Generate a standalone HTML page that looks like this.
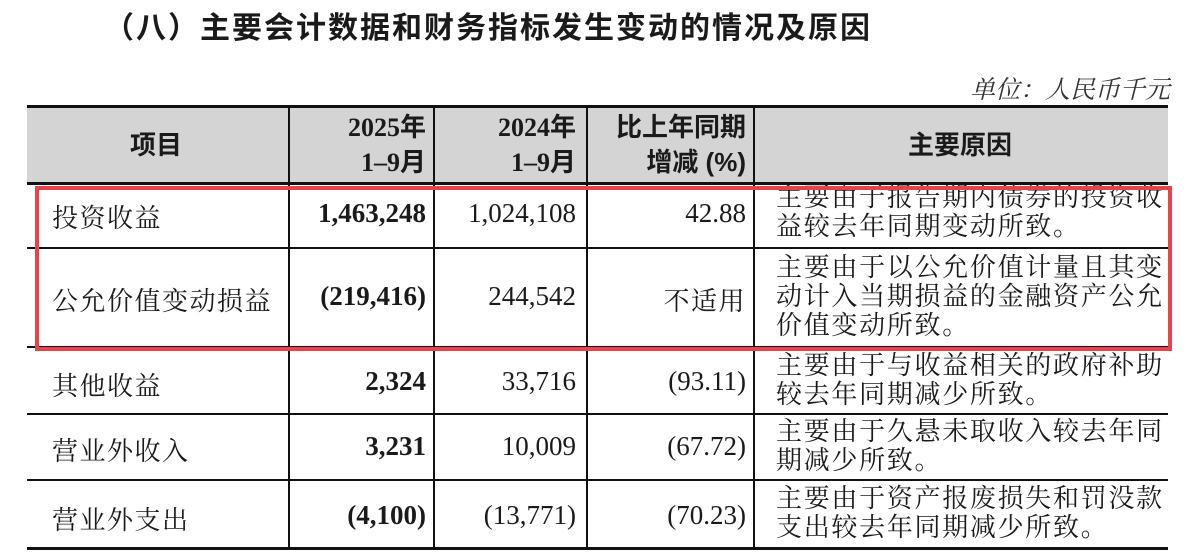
<!DOCTYPE html>
<html><head><meta charset="utf-8"><style>
body{margin:0;width:1202px;height:556px;background:#fff;position:relative;overflow:hidden;font-family:"Liberation Serif","Noto Serif CJK SC",serif;color:#1a1a1a}
.a{position:absolute;white-space:nowrap}
.h{position:absolute;background:#111}
.t{font-family:"Liberation Sans","Noto Sans CJK SC",sans-serif;font-weight:bold;font-size:30px;letter-spacing:2px;left:104px;top:3px}
.u{font-style:italic;font-size:25px;right:32px;top:70px;color:#333}
.c{font-size:27px}
.z{font-size:26px;letter-spacing:1.5px}
.r{text-align:right}
.b{font-weight:bold}
.hd{font-family:"Liberation Serif","Noto Sans CJK SC",serif;font-weight:bold;font-size:26px;line-height:35px}
.rs{font-size:26px;letter-spacing:1.7px;line-height:29px;left:776px}
</style></head><body>
<div class="a t">（八）主要会计数据和财务指标发生变动的情况及原因</div>
<div class="a u">单位：人民币千元</div>
<div style="position:absolute;left:27px;top:107px;width:1141px;height:76px;background:#d4d4d4"></div>
<div class="h" style="left:27px;top:105px;width:1141px;height:3px"></div>
<div class="h" style="left:27px;top:182px;width:1141px;height:3px"></div>
<div class="h" style="left:27px;top:247px;width:1141px;height:2px"></div>
<div class="h" style="left:27px;top:346px;width:1141px;height:2px"></div>
<div class="h" style="left:27px;top:413px;width:1141px;height:2px"></div>
<div class="h" style="left:27px;top:479px;width:1141px;height:2px"></div>
<div class="h" style="left:27px;top:547px;width:1141px;height:3px"></div>
<div class="h" style="left:288px;top:105px;width:2px;height:444px"></div>
<div class="h" style="left:433px;top:105px;width:2px;height:444px"></div>
<div class="h" style="left:586px;top:105px;width:2px;height:444px"></div>
<div class="h" style="left:753px;top:105px;width:2px;height:444px"></div>
<div class="a hd" style="left:130px;top:128px;font-family:'Liberation Sans','Noto Sans CJK SC',sans-serif">项目</div>
<div class="a hd r" style="right:776px;top:110px">2025年<br>1–9月</div>
<div class="a hd r" style="right:626px;top:110px">2024年<br>1–9月</div>
<div class="a hd r" style="right:456px;top:110px;font-family:'Liberation Sans','Noto Sans CJK SC',sans-serif">比上年同期<br>增减 (%)</div>
<div class="a hd" style="left:908px;top:128px;font-family:'Liberation Sans','Noto Sans CJK SC',sans-serif">主要原因</div>

<div class="a z" style="left:52px;top:198px">投资收益</div>
<div class="a c b r" style="right:776px;top:198px">1,463,248</div>
<div class="a c r" style="right:626px;top:198px">1,024,108</div>
<div class="a c r" style="right:456px;top:198px">42.88</div>
<div class="a rs" style="top:183px">主要由于报告期内债券的投资收<br>益较去年同期变动所致。</div>

<div class="a z" style="left:52px;top:281px">公允价值变动损益</div>
<div class="a c b r" style="right:776px;top:281px">(219,416)</div>
<div class="a c r" style="right:626px;top:281px">244,542</div>
<div class="a z r" style="right:456px;top:281px">不适用</div>
<div class="a rs" style="top:253px">主要由于以公允价值计量且其变<br>动计入当期损益的金融资产公允<br>价值变动所致。</div>

<div class="a z" style="left:52px;top:366px">其他收益</div>
<div class="a c b r" style="right:776px;top:366px">2,324</div>
<div class="a c r" style="right:626px;top:366px">33,716</div>
<div class="a c r" style="right:456px;top:366px">(93.11)</div>
<div class="a rs" style="top:351px">主要由于与收益相关的政府补助<br>较去年同期减少所致。</div>

<div class="a z" style="left:52px;top:431px">营业外收入</div>
<div class="a c b r" style="right:776px;top:431px">3,231</div>
<div class="a c r" style="right:626px;top:431px">10,009</div>
<div class="a c r" style="right:456px;top:431px">(67.72)</div>
<div class="a rs" style="top:417px">主要由于久悬未取收入较去年同<br>期减少所致。</div>

<div class="a z" style="left:52px;top:500px">营业外支出</div>
<div class="a c b r" style="right:776px;top:500px">(4,100)</div>
<div class="a c r" style="right:626px;top:500px">(13,771)</div>
<div class="a c r" style="right:456px;top:500px">(70.23)</div>
<div class="a rs" style="top:484px">主要由于资产报废损失和罚没款<br>支出较去年同期减少所致。</div>

<div style="position:absolute;left:35px;top:186px;width:1129px;height:157px;border:4px solid #e8424a"></div>
</body></html>
